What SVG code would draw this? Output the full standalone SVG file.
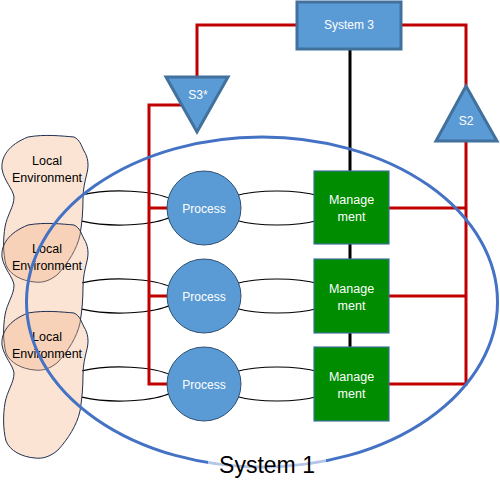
<svg xmlns="http://www.w3.org/2000/svg" width="500" height="497" viewBox="0 0 500 497">
<style>
.t{font-family:"Liberation Sans",Arial,sans-serif;text-anchor:middle}
.w{fill:#ffffff;font-size:12px}
.k{fill:#000000;font-size:12.5px}
.wm{fill:#ffffff;font-size:12.5px}
.curve{fill:none;stroke:#000000;stroke-width:1.2}
.red{fill:none;stroke:#c00000;stroke-width:3}
.blob{fill:#f4b183;fill-opacity:0.35;stroke:#203050;stroke-width:1}
.proc{fill:#5b9bd5;stroke:#2f5071;stroke-width:1}
.mgmt{fill:#008c00;stroke:#41719c;stroke-width:1.2}
.s3{fill:#5b9bd5;stroke:#41719c;stroke-width:3}
</style>
<defs>
<path id="blobShape" d="M 28,2 C 45,-1 62,1 74,2 C 80,5 81,10 84,16 C 88,22 89,30 87,38 C 85,46 83,54 83,64 C 83,76 82,88 80,100 C 77,114 68,128 58,139 C 50,146 42,148 35,147 C 22,146 10,140 6,130 C 3,118 3,104 5,92 C 7,80 14,72 14,62 C 13,54 4,46 2,34 C 1,22 8,10 28,2 Z"/>
</defs>
<rect width="500" height="497" fill="#ffffff"/>
<g id="connectors">
  <path class="curve" d="M 82,194.8 A 60 17 0 0 1 172,199.5 M 82,221.2 A 60 17 0 0 0 172,216.5"/>
  <path class="curve" d="M 82,282.8 A 60 17 0 0 1 172,287.5 M 82,309.2 A 60 17 0 0 0 172,304.5"/>
  <path class="curve" d="M 82,370.8 A 60 17 0 0 1 172,375.5 M 82,397.2 A 60 17 0 0 0 172,392.5"/>
  <ellipse class="curve" cx="277" cy="208" rx="60" ry="17"/>
  <ellipse class="curve" cx="277" cy="296" rx="60" ry="17"/>
  <ellipse class="curve" cx="277" cy="384" rx="60" ry="17"/>
</g>
<g id="env1"><use href="#blobShape" class="blob" transform="translate(0,135)"/><text class="t k" x="47" y="164.5">Local</text><text class="t k" x="47" y="181.5">Environment</text></g>
<g id="env2"><use href="#blobShape" class="blob" transform="translate(0,223)"/><text class="t k" x="47" y="252.5">Local</text><text class="t k" x="47" y="269.5">Environment</text></g>
<g id="env3"><use href="#blobShape" class="blob" transform="translate(0,311)"/><text class="t k" x="47" y="340.5">Local</text><text class="t k" x="47" y="357.5">Environment</text></g>
<g id="links">
  <path class="red" d="M 297,25 H 197 V 76"/>
  <path class="red" d="M 401,25 H 466 V 86"/>
  <path class="red" d="M 181,105 H 149 V 384 H 170 M 149,208 H 170 M 149,296 H 170"/>
  <path class="red" d="M 466,141 V 384 H 389 M 466,208 H 389 M 466,296 H 389"/>
  <line x1="350" y1="49" x2="350" y2="347" stroke="#000000" stroke-width="3"/>
</g>
<g id="process1"><circle class="proc" cx="204" cy="208" r="37"/><text class="t w" x="204" y="212.5">Process</text></g>
<g id="process2"><circle class="proc" cx="204" cy="296" r="37"/><text class="t w" x="204" y="300.5">Process</text></g>
<g id="process3"><circle class="proc" cx="204" cy="384" r="37"/><text class="t w" x="204" y="388.5">Process</text></g>
<g id="mgmt1"><rect class="mgmt" x="314" y="171" width="75" height="73"/><text class="t wm" x="351.5" y="204">Manage</text><text class="t wm" x="351.5" y="221">ment</text></g>
<g id="mgmt2"><rect class="mgmt" x="314" y="259" width="75" height="74"/><text class="t wm" x="351.5" y="292.5">Manage</text><text class="t wm" x="351.5" y="309.5">ment</text></g>
<g id="mgmt3"><rect class="mgmt" x="314" y="347" width="75" height="74"/><text class="t wm" x="351.5" y="380.5">Manage</text><text class="t wm" x="351.5" y="397.5">ment</text></g>
<g id="system3"><rect class="s3" x="297" y="2" width="104" height="47"/><text class="t w" x="349" y="29">System 3</text></g>
<g id="s3star"><polygon class="s3" points="166,77 228,77 197,132"/><text class="t w" x="198" y="99">S3*</text></g>
<g id="s2"><polygon class="s3" points="466,86 497,141 436,141"/><text class="t w" x="466" y="125">S2</text></g>
<g id="system1">
  <ellipse cx="262" cy="302" rx="235.5" ry="165" fill="none" stroke="#4472c4" stroke-width="3"/>
  <rect x="208" y="452" width="118" height="26" fill="#ffffff" fill-opacity="0.6"/>
  <text class="t" x="267" y="473" font-size="23" fill="#000000">System 1</text>
</g>
</svg>
